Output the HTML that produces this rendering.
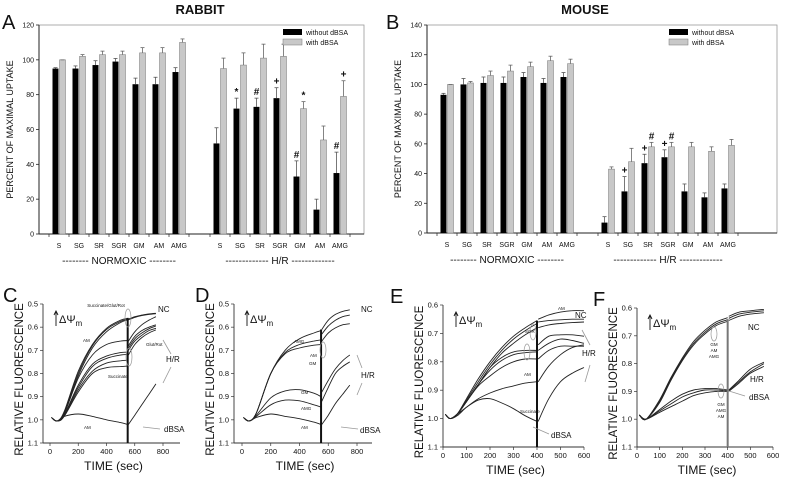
<!DOCTYPE html>
<html><head><meta charset="utf-8"><style>
html,body{margin:0;padding:0;background:#fff;}
svg{display:block;font-family:"Liberation Sans",sans-serif;}
</style></head><body>
<svg id="fig" width="787" height="480" viewBox="0 0 787 480" xmlns="http://www.w3.org/2000/svg"></svg>
<script>
// ---------- Bar data ----------
const barCats = ["S","SG","SR","SGR","GM","AM","AMG"];
const rabNormBlack = [95,95,97,99,86,86,93];
const rabNormBlackErr = [0.5,1.5,2.5,1.8,3.5,4,2.5];
const rabNormGray = [100,102,103,103,104,104,110];
const rabNormGrayErr = [0,1,2,2,3,3,2];
const rabHRBlack = [52,72,73,78,33,14,35];
const rabHRBlackErr = [9,6,5,6,9,6,12];
const rabHRGray = [95,97,101,102,72,54,79];
const rabHRGrayErr = [6,7,8,7,4,8,9];
const rabHRBlackMarks = ["","*","#","+","#","","#"];
const rabHRGrayMarks = ["","","","","*","","+"];
const rabTicks = [0,20,40,60,80,100,120];

const mouNormBlack = [93,100,101,101,105,101,105];
const mouNormBlackErr = [1,4,4,4,3,3,3];
const mouNormGray = [100,101,106,109,112,116,114];
const mouNormGrayErr = [0,1,3,4,3,3,3];
const mouHRBlack = [7,28,47,51,28,24,30];
const mouHRBlackErr = [4,10,6,5,5,3,3];
const mouHRGray = [43,48,58,58,58,55,59];
const mouHRGrayErr = [1.5,9,3,3,3,3,4];
const mouHRBlackMarks = ["","+","+","+","","",""];
const mouHRGrayMarks = ["","","#","#","","",""];
const mouTicks = [0,20,40,60,80,100,120,140];

// ---------- Trace data ----------
const fTicksY = [0.5,0.6,0.7,0.8,0.9,1.0,1.1];
const fTicksYE = [0.6,0.7,0.8,0.9,1.0,1.1];
const cTimeTicks = [0,200,400,600,800];
const eTimeTicks = [0,100,200,300,400,500,600];

const cT1 = [10,50,100,200,300,400,500,550];
const cNCa = [0.99,1.005,0.97,0.80,0.68,0.61,0.575,0.565];
const cNCb = [0.99,1.005,0.975,0.81,0.69,0.62,0.58,0.568];
const cNCc = [0.99,1.005,0.965,0.79,0.675,0.605,0.57,0.562];
const cAM1 = [0.99,1.005,0.975,0.82,0.72,0.675,0.66,0.658];
const cHa = [0.99,1.005,0.98,0.85,0.76,0.725,0.71,0.708];
const cHb = [0.99,1.005,0.98,0.86,0.77,0.735,0.72,0.718];
const cHc = [0.99,1.005,0.985,0.87,0.79,0.755,0.745,0.743];
const cHd = [0.99,1.005,0.985,0.88,0.80,0.775,0.77,0.768];
const cAMhr = [0.99,1.005,0.985,0.975,0.985,1.0,1.012,1.02];
const cT2 = [555,600,650,700,750];
const cNCa2 = [0.565,0.555,0.548,0.543,0.54];
const cNCb2 = [0.568,0.558,0.55,0.545,0.542];
const cAM2 = [0.66,0.62,0.59,0.57,0.555];
const cHa2 = [0.68,0.64,0.615,0.6,0.59];
const cHb2 = [0.69,0.65,0.625,0.607,0.595];
const cHc2 = [0.70,0.66,0.635,0.615,0.605];
const cHd2 = [0.72,0.675,0.645,0.625,0.612];
const cAMhr2 = [1.02,0.98,0.935,0.89,0.845];

const dT1 = [10,50,100,200,300,400,500,550];
const dAMG = [0.99,1.005,0.97,0.80,0.70,0.65,0.625,0.615];
const dAM = [0.99,1.005,0.97,0.80,0.71,0.675,0.66,0.655];
const dGM = [0.99,1.005,0.97,0.80,0.715,0.69,0.678,0.675];
const dGMhr = [0.99,1.005,0.98,0.905,0.875,0.87,0.885,0.90];
const dAMGhr = [0.99,1.005,0.985,0.935,0.915,0.918,0.935,0.945];
const dAMhr = [0.99,1.005,0.99,0.975,0.985,0.995,1.01,1.02];
const dT2 = [555,600,650,700,750];
const dAMG2 = [0.61,0.57,0.545,0.532,0.525];
const dAM2 = [0.63,0.595,0.57,0.555,0.548];
const dGM2 = [0.66,0.625,0.603,0.59,0.585];
const dGMhr2 = [0.88,0.83,0.78,0.745,0.72];
const dAMGhr2 = [0.92,0.86,0.8,0.77,0.75];
const dAMhr2 = [1.02,0.98,0.93,0.89,0.85];

const eT1 = [10,30,60,100,150,200,250,300,350,400];
const eNCa = [0.985,1.0,0.985,0.93,0.86,0.80,0.75,0.71,0.68,0.655];
const eNCb = [0.985,1.0,0.985,0.935,0.87,0.81,0.76,0.72,0.69,0.665];
const eNCc = [0.985,1.0,0.985,0.94,0.88,0.82,0.77,0.735,0.705,0.68];
const eSGR = [0.985,1.0,0.985,0.94,0.88,0.82,0.785,0.765,0.76,0.76];
const eHb = [0.985,1.0,0.985,0.94,0.88,0.83,0.795,0.775,0.768,0.765];
const eHc = [0.985,1.0,0.985,0.94,0.885,0.85,0.82,0.80,0.79,0.79];
const eAM = [0.985,1.0,0.99,0.96,0.93,0.91,0.895,0.885,0.875,0.87];
const eSuc = [0.985,1.0,0.985,0.96,0.935,0.93,0.945,0.965,0.99,1.01];
const eT2 = [405,450,500,550,600];
const eAM2 = [0.65,0.635,0.625,0.62,0.62];
const eNCb2 = [0.66,0.655,0.652,0.65,0.65];
const eNCc2 = [0.68,0.67,0.665,0.662,0.66];
const eSGR2 = [0.74,0.71,0.705,0.705,0.71];
const eHb2 = [0.76,0.735,0.72,0.725,0.735];
const eHc2 = [0.79,0.76,0.745,0.745,0.745];
const eAMhr2 = [0.87,0.815,0.775,0.75,0.74];
const eSuc2 = [1.01,0.93,0.87,0.84,0.82];

const fT1 = [10,40,100,150,200,250,300,350,400];
const fNCa = [0.985,1.0,0.93,0.85,0.78,0.72,0.68,0.65,0.635];
const fNCb = [0.985,1.0,0.935,0.855,0.785,0.727,0.687,0.657,0.642];
const fNCc = [0.985,1.0,0.94,0.86,0.79,0.733,0.693,0.663,0.648];
const fHa = [0.985,1.0,0.965,0.935,0.91,0.895,0.89,0.89,0.895];
const fHb = [0.985,1.0,0.97,0.945,0.92,0.905,0.895,0.895,0.898];
const fHc = [0.985,1.0,0.975,0.955,0.935,0.915,0.905,0.9,0.9];
const fT2 = [405,450,500,560];
const fNCa2 = [0.63,0.615,0.61,0.605];
const fNCb2 = [0.637,0.622,0.615,0.61];
const fNCc2 = [0.645,0.63,0.622,0.617];
const fHa2 = [0.895,0.86,0.82,0.795];
const fHb2 = [0.898,0.865,0.83,0.80];
const fHc2 = [0.9,0.87,0.835,0.81];

// ---------- helpers ----------
const svg = document.getElementById('fig');
const NS = "http://www.w3.org/2000/svg";
function mk(tag, attrs, parent) {
  const e = document.createElementNS(NS, tag);
  for (const k in attrs) e.setAttribute(k, attrs[k]);
  (parent || svg).appendChild(e);
  return e;
}
function txt(x, y, s, size, anchor, parent, extra) {
  const t = mk('text', Object.assign({x: x, y: y, 'font-size': size, 'text-anchor': anchor || 'start', fill: '#111'}, extra || {}), parent);
  t.textContent = s;
  return t;
}

function barPanel(cfg) {
  const g = mk('g', {});
  
  
  const ys = v => cfg.yb - (v / cfg.ymax) * (cfg.yb - cfg.yt);
  const fr = mk('rect', {x: cfg.xl, y: cfg.yt, width: cfg.xr - cfg.xl, height: cfg.yb - cfg.yt, fill: 'none', stroke: '#999', 'stroke-width': 0.8}, g);
  
  
  mk('line', {x1: cfg.xl, y1: cfg.yt, x2: cfg.xl, y2: cfg.yb, stroke: '#222', 'stroke-width': 1}, g);
  mk('line', {x1: cfg.xl, y1: cfg.yb, x2: cfg.xr, y2: cfg.yb, stroke: '#222', 'stroke-width': 1}, g);
  cfg.ticks.forEach(v => {
    mk('line', {x1: cfg.xl - 3, y1: ys(v), x2: cfg.xl, y2: ys(v), stroke: '#222', 'stroke-width': 0.8}, g);
    const t = txt(cfg.xl - 5, ys(v) + 2.5, String(v), 7, 'end', g);
    
    
  });
  const groups = [
    {start: cfg.n0, bk: cfg.nb, bkE: cfg.nbe, gr: cfg.ng, grE: cfg.nge, bm: null, gm: null, label: '-------- NORMOXIC --------'},
    {start: cfg.h0, bk: cfg.hb, bkE: cfg.hbe, gr: cfg.hg, grE: cfg.hge, bm: cfg.hbm, gm: cfg.hgm, label: '------------- H/R -------------'}
  ];
  groups.forEach((G, gi) => {
    barCats.forEach((c, i) => {
      const cx = G.start + i * cfg.step;
      mk('line', {x1: cx - 10, y1: cfg.yb, x2: cx - 10, y2: cfg.yb + 3, stroke: '#222', 'stroke-width': 0.7}, g);
      if (i === 6) mk('line', {x1: cx + 10, y1: cfg.yb, x2: cx + 10, y2: cfg.yb + 3, stroke: '#222', 'stroke-width': 0.7}, g);
      const bv = G.bk[i], gv = G.gr[i];
      const b = mk('rect', {x: cx - 6.5, y: ys(bv), width: 6, height: cfg.yb - ys(bv), fill: '#000'}, g);
      
      
      const r = mk('rect', {x: cx + 0.5, y: ys(gv), width: 6, height: cfg.yb - ys(gv), fill: '#c8c8c8', stroke: '#777', 'stroke-width': 0.5}, g);
      
      
      const eb = ys(bv + G.bkE[i]), eg = ys(gv + G.grE[i]);
      mk('line', {x1: cx - 3.5, y1: ys(bv), x2: cx - 3.5, y2: eb, stroke: '#555', 'stroke-width': 0.8}, g);
      mk('line', {x1: cx - 5.5, y1: eb, x2: cx - 1.5, y2: eb, stroke: '#555', 'stroke-width': 0.8}, g);
      mk('line', {x1: cx + 3.5, y1: ys(gv), x2: cx + 3.5, y2: eg, stroke: '#666', 'stroke-width': 0.8}, g);
      mk('line', {x1: cx + 1.5, y1: eg, x2: cx + 5.5, y2: eg, stroke: '#666', 'stroke-width': 0.8}, g);
      if (G.bm && G.bm[i]) txt(cx - 3.5, eb - 3, G.bm[i], 10, 'middle', g, {'font-weight': 'bold'});
      if (G.gm && G.gm[i]) txt(cx + 3.5, eg - 3, G.gm[i], 10, 'middle', g, {'font-weight': 'bold'});
      const cl = txt(cx, cfg.yb + 14, c, 7, 'middle', g);
      
      
    });
    const gl = txt(G.start + 3 * cfg.step, cfg.yb + 30, G.label, 10, 'middle', g);
    
    
  });
  const lg = mk('g', {}, g);
  
  
  mk('rect', {x: cfg.legX, y: cfg.yt + 4, width: 19, height: 6, fill: '#000'}, lg);
  txt(cfg.legX + 23, cfg.yt + 10, 'without dBSA', 7, 'start', lg);
  mk('rect', {x: cfg.legX, y: cfg.yt + 14, width: 19, height: 6, fill: '#c8c8c8', stroke: '#777', 'stroke-width': 0.5}, lg);
  txt(cfg.legX + 23, cfg.yt + 20, 'with dBSA', 7, 'start', lg);
  const yt = txt(0, 0, 'PERCENT OF MAXIMAL UPTAKE', 9, 'middle', g, {transform: `translate(${cfg.xl - 26},${(cfg.yt + cfg.yb) / 2}) rotate(-90)`});
  
  
  const tt = txt(cfg.titleX, 14, cfg.title, 13, 'middle', g, {'font-weight': 'bold'});
  
  
  const pl = txt(cfg.letterX, 29, cfg.letter, 20, 'start', g);
  
  
}

barPanel({name: 'rabbit-bar-chart', title: 'RABBIT', titleX: 200, letter: 'A', letterX: 2,
  xl: 39, xr: 364, yt: 25, yb: 234, ymax: 120, ticks: rabTicks, step: 20, n0: 59, h0: 220, legX: 283,
  nb: rabNormBlack, nbe: rabNormBlackErr, ng: rabNormGray, nge: rabNormGrayErr,
  hb: rabHRBlack, hbe: rabHRBlackErr, hg: rabHRGray, hge: rabHRGrayErr, hbm: rabHRBlackMarks, hgm: rabHRGrayMarks});
barPanel({name: 'mouse-bar-chart', title: 'MOUSE', titleX: 585, letter: 'B', letterX: 386,
  xl: 427, xr: 777, yt: 25, yb: 233, ymax: 140, ticks: mouTicks, step: 20, n0: 447, h0: 608, legX: 669,
  nb: mouNormBlack, nbe: mouNormBlackErr, ng: mouNormGray, nge: mouNormGrayErr,
  hb: mouHRBlack, hbe: mouHRBlackErr, hg: mouHRGray, hge: mouHRGrayErr, hbm: mouHRBlackMarks, hgm: mouHRGrayMarks});

function pathFrom(ts, vs, xs, ys) {
  const p = ts.map((t, i) => [xs(t), ys(vs[i])]);
  let d = `M${p[0][0].toFixed(1)},${p[0][1].toFixed(1)}`;
  for (let i = 0; i < p.length - 1; i++) {
    const p0 = p[Math.max(0, i - 1)], p1 = p[i], p2 = p[i + 1], p3 = p[Math.min(p.length - 1, i + 2)];
    const c1 = [p1[0] + (p2[0] - p0[0]) / 6, p1[1] + (p2[1] - p0[1]) / 6];
    const c2 = [p2[0] - (p3[0] - p1[0]) / 6, p2[1] - (p3[1] - p1[1]) / 6];
    d += ` C${c1[0].toFixed(1)},${c1[1].toFixed(1)} ${c2[0].toFixed(1)},${c2[1].toFixed(1)} ${p2[0].toFixed(1)},${p2[1].toFixed(1)}`;
  }
  return d;
}
function tracePanel(cfg) {
  const g = mk('g', {});
  
  
  const xs = t => cfg.x0 + (t - cfg.t0) / (cfg.t1 - cfg.t0) * (cfg.x1 - cfg.x0);
  const ys = v => cfg.yt + (v - cfg.vmin) / (cfg.vmax - cfg.vmin) * (cfg.yb - cfg.yt);
  mk('line', {x1: cfg.axL, y1: cfg.yt, x2: cfg.axL, y2: cfg.yb, stroke: '#333', 'stroke-width': 0.9}, g);
  mk('line', {x1: cfg.axL, y1: cfg.yb, x2: cfg.axR, y2: cfg.yb, stroke: '#333', 'stroke-width': 0.9}, g);
  cfg.yTicks.forEach(v => {
    mk('line', {x1: cfg.axL - 3, y1: ys(v), x2: cfg.axL, y2: ys(v), stroke: '#333', 'stroke-width': 0.7}, g);
    const t = txt(cfg.axL - 5, ys(v) + 2.5, v.toFixed(1), 7.5, 'end', g);
    
    
  });
  cfg.xTicks.forEach(v => {
    mk('line', {x1: xs(v), y1: cfg.yb, x2: xs(v), y2: cfg.yb + 3, stroke: '#333', 'stroke-width': 0.7}, g);
    const t = txt(xs(v), cfg.yb + 11, String(v), 7.5, 'middle', g);
    
    
  });
  cfg.series.forEach(s => {
    const p = mk('path', {d: pathFrom(s[0], s[1], xs, ys), fill: 'none', stroke: '#222', 'stroke-width': 0.9}, g);
    
    
  });
  const vl = mk('line', {x1: xs(cfg.tAdd), y1: ys(cfg.vAddTop), x2: xs(cfg.tAdd), y2: cfg.yb, stroke: cfg.vColor || '#111', 'stroke-width': 2}, g);
  
  
  const yt = txt(0, 0, 'RELATIVE FLUORESCENCE', 11.5, 'middle', g, {transform: `translate(${cfg.axL - 20},${(cfg.yt + cfg.yb) / 2 + 6}) rotate(-90)`});
  
  
  const xt = txt((cfg.axL + cfg.axR) / 2 + 2, cfg.yb + 27, 'TIME (sec)', 12, 'middle', g);
  
  
  const pl = txt(cfg.letterX, cfg.yt - 2, cfg.letter, 20, 'start', g);
  
  
  const dp = mk('g', {}, g);
  
  
  mk('line', {x1: cfg.axL + 13, y1: cfg.yt + 22, x2: cfg.axL + 13, y2: cfg.yt + 8, stroke: '#111', 'stroke-width': 0.9}, dp);
  mk('path', {d: `M${cfg.axL + 11},${cfg.yt + 11} L${cfg.axL + 13},${cfg.yt + 7} L${cfg.axL + 15},${cfg.yt + 11}`, fill: 'none', stroke: '#111', 'stroke-width': 0.9}, dp);
  const tx = txt(cfg.axL + 16, cfg.yt + 19, 'ΔΨ', 11, 'start', dp);
  const sub = mk('tspan', {'font-size': 8, dy: 3}, tx); sub.textContent = 'm';
  cfg.labels.forEach(l => {
    const t = txt(l[0], l[1], l[2], l[3], l[4] || 'start', g);
    
    
  });
  cfg.lines.forEach(l => mk('line', {x1: l[0], y1: l[1], x2: l[2], y2: l[3], stroke: '#999', 'stroke-width': 0.8}, g));
  cfg.ellipses.forEach(e => mk('ellipse', {cx: e[0], cy: e[1], rx: e[2], ry: e[3], fill: 'none', stroke: '#999', 'stroke-width': 0.7}, g));
}

tracePanel({name: 'panel-c-rabbit-traces', letter: 'C', letterX: 3, axL: 43, axR: 180, x0: 50, x1: 163, t0: 0, t1: 800,
  yt: 304, yb: 443, vmin: 0.5, vmax: 1.1, yTicks: fTicksY, xTicks: cTimeTicks, tAdd: 550, vAddTop: 0.56,
  series: [[cT1, cNCa], [cT1, cNCb], [cT1, cNCc], [cT1, cAM1], [cT1, cHa], [cT1, cHb], [cT1, cHc], [cT1, cHd], [cT1, cAMhr],
    [cT2, cNCa2], [cT2, cNCb2], [cT2, cAM2], [cT2, cHa2], [cT2, cHb2], [cT2, cHc2], [cT2, cHd2], [cT2, cAMhr2]],
  labels: [[106, 307, 'Succinate/Glut/Rot', 4.5, 'middle'], [83, 342, 'AM', 4.5], [146, 346, 'Glut/Rot', 4.5], [108, 378, 'Succinate', 4.5],
    [84, 429, 'AM', 4.5], [158, 312, 'NC', 8], [166, 362, 'H/R', 8], [164, 432, 'dBSA', 8]],
  lines: [[160, 429, 143, 427], [163, 340, 171, 354], [171, 367, 163, 383]],
  ellipses: [[128, 318, 3, 9], [129, 357, 3, 9]]});
tracePanel({name: 'panel-d-mouse-traces', letter: 'D', letterX: 195, axL: 234, axR: 372, x0: 242, x1: 357, t0: 0, t1: 800,
  yt: 304, yb: 443, vmin: 0.5, vmax: 1.1, yTicks: fTicksY, xTicks: cTimeTicks, tAdd: 550, vAddTop: 0.61,
  series: [[dT1, dAMG], [dT1, dAM], [dT1, dGM], [dT1, dGMhr], [dT1, dAMGhr], [dT1, dAMhr],
    [dT2, dAMG2], [dT2, dAM2], [dT2, dGM2], [dT2, dGMhr2], [dT2, dAMGhr2], [dT2, dAMhr2]],
  labels: [[294, 343, 'AMG', 4.5], [310, 357, 'AM', 4.5], [309, 365, 'GM', 4.5], [301, 394, 'GM', 4.5],
    [301, 410, 'AMG', 4.5], [301, 429, 'AM', 4.5], [361, 312, 'NC', 8], [361, 378, 'H/R', 8], [360, 433, 'dBSA', 8]],
  lines: [[358, 429, 341, 427], [357, 355, 362, 368], [362, 383, 357, 395]],
  ellipses: [[323, 350, 3, 8]]});
tracePanel({name: 'panel-e-rabbit-traces', letter: 'E', letterX: 390, axL: 443, axR: 584, x0: 443, x1: 584, t0: 0, t1: 600,
  yt: 305, yb: 447, vmin: 0.6, vmax: 1.1, yTicks: fTicksYE, xTicks: eTimeTicks, tAdd: 400, vAddTop: 0.655,
  series: [[eT1, eNCa], [eT1, eNCb], [eT1, eNCc], [eT1, eSGR], [eT1, eHb], [eT1, eHc], [eT1, eAM], [eT1, eSuc],
    [eT2, eAM2], [eT2, eNCb2], [eT2, eNCc2], [eT2, eSGR2], [eT2, eHb2], [eT2, eHc2], [eT2, eAMhr2], [eT2, eSuc2]],
  labels: [[558, 310, 'AM', 4.5], [575, 318, 'NC', 8], [525, 333, 'SGR', 4.5], [524, 376, 'AM', 4.5], [520, 413, 'Succinate', 4.5],
    [582, 356, 'H/R', 8], [551, 438, 'dBSA', 8]],
  lines: [[549, 434, 533, 427], [582, 330, 590, 345], [590, 365, 585, 382]],
  ellipses: [[533, 332, 3, 8], [527, 352, 3, 8]]});
tracePanel({name: 'panel-f-mouse-traces', letter: 'F', letterX: 593, axL: 637, axR: 773, x0: 637, x1: 773, t0: 0, t1: 600,
  yt: 308, yb: 447, vmin: 0.6, vmax: 1.1, yTicks: fTicksYE, xTicks: eTimeTicks, tAdd: 400, vAddTop: 0.64, vColor: '#777',
  series: [[fT1, fNCa], [fT1, fNCb], [fT1, fNCc], [fT1, fHa], [fT1, fHb], [fT1, fHc],
    [fT2, fNCa2], [fT2, fNCb2], [fT2, fNCc2], [fT2, fHa2], [fT2, fHb2], [fT2, fHc2]],
  labels: [[714, 346, 'GM', 4.5, 'middle'], [714, 352, 'AM', 4.5, 'middle'], [714, 358, 'AMG', 4.5, 'middle'],
    [721, 406, 'GM', 4.5, 'middle'], [721, 412, 'AMG', 4.5, 'middle'], [721, 418, 'AM', 4.5, 'middle'],
    [748, 330, 'NC', 8], [750, 382, 'H/R', 8], [749, 400, 'dBSA', 8]],
  lines: [[745, 396, 729, 391]],
  ellipses: [[714, 334, 3, 7], [721, 391, 3, 7]]});
</script>
</body></html>
